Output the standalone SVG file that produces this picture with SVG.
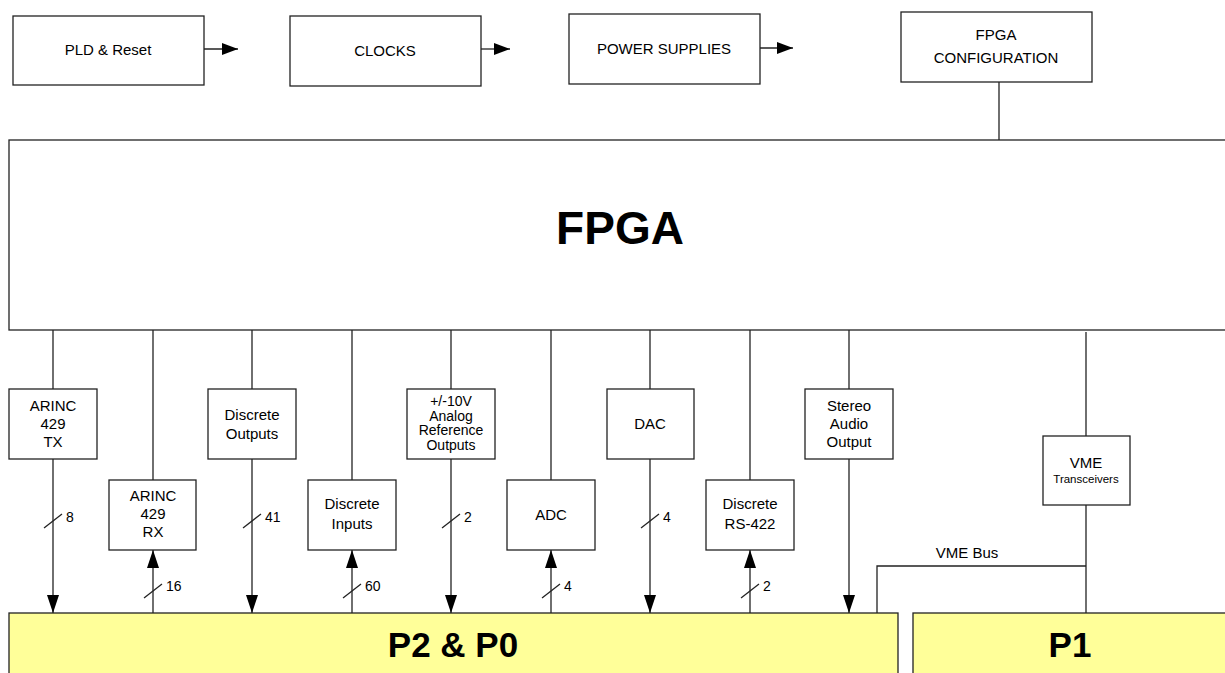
<svg xmlns="http://www.w3.org/2000/svg" width="1225" height="673" viewBox="0 0 1225 673">
<style>
.box{fill:#fff;stroke:#222;stroke-width:1.3}
.conn{fill:#ffff99;stroke:#222;stroke-width:1.3}
.ln{fill:none;stroke:#222;stroke-width:1.3}
.t{font-family:"Liberation Sans",Arial,sans-serif;font-size:15px;fill:#000;text-anchor:middle}
.s{font-size:14px}
.xs{font-size:11.5px}
.n{font-family:"Liberation Sans",Arial,sans-serif;font-size:14px;fill:#000}
.big{font-family:"Liberation Sans",Arial,sans-serif;font-weight:bold;fill:#000;text-anchor:middle}
</style>
<defs>
<marker id="ah" markerUnits="userSpaceOnUse" markerWidth="16" markerHeight="12" refX="16" refY="6" orient="auto"><path d="M0,0 L16,6 L0,12 z" fill="#000"/></marker>
<marker id="av" markerUnits="userSpaceOnUse" markerWidth="18" markerHeight="12" refX="18" refY="6" orient="auto"><path d="M0,0 L18,6 L0,12 z" fill="#000"/></marker>
</defs>
<rect width="1225" height="673" fill="#fff"/>

<g id="pld"><rect class="box" x="13" y="16" width="191" height="69"/><text class="t" x="108" y="55">PLD &amp; Reset</text></g>
<g id="clocks"><rect class="box" x="290" y="16" width="191" height="70"/><text class="t" x="385" y="56">CLOCKS</text></g>
<g id="power"><rect class="box" x="569" y="14" width="191" height="70"/><text class="t" x="664" y="54">POWER SUPPLIES</text></g>
<g id="fpgacfg"><rect class="box" x="901" y="12" width="191" height="70"/><text class="t" x="996" y="40">FPGA</text><text class="t" x="996" y="63">CONFIGURATION</text></g>
<g id="fpga"><rect class="box" x="9" y="140" width="1225" height="190"/><text class="big" x="620" y="244" style="font-size:46px">FPGA</text></g>

<g id="arinctx"><rect class="box" x="9" y="389" width="88" height="70"/><text class="t" x="53" y="411">ARINC</text><text class="t" x="53" y="429">429</text><text class="t" x="53" y="447">TX</text></g>
<g id="arincrx"><rect class="box" x="109" y="480" width="87" height="70"/><text class="t" x="153" y="501">ARINC</text><text class="t" x="153" y="519">429</text><text class="t" x="153" y="537">RX</text></g>
<g id="dout"><rect class="box" x="208" y="389" width="88" height="70"/><text class="t" x="252" y="420">Discrete</text><text class="t" x="252" y="439">Outputs</text></g>
<g id="din"><rect class="box" x="308" y="480" width="88" height="70"/><text class="t" x="352" y="509">Discrete</text><text class="t" x="352" y="529">Inputs</text></g>
<g id="analog"><rect class="box" x="407" y="389" width="88" height="70"/><text class="t s" x="451" y="406">+/-10V</text><text class="t s" x="451" y="421">Analog</text><text class="t s" x="451" y="435">Reference</text><text class="t s" x="451" y="450">Outputs</text></g>
<g id="adc"><rect class="box" x="507" y="480" width="88" height="70"/><text class="t" x="551" y="520">ADC</text></g>
<g id="dac"><rect class="box" x="607" y="389" width="87" height="70"/><text class="t" x="650" y="429">DAC</text></g>
<g id="rs422"><rect class="box" x="706" y="480" width="88" height="70"/><text class="t" x="750" y="509">Discrete</text><text class="t" x="750" y="529">RS-422</text></g>
<g id="audio"><rect class="box" x="805" y="389" width="88" height="70"/><text class="t" x="849" y="411">Stereo</text><text class="t" x="849" y="429">Audio</text><text class="t" x="849" y="447">Output</text></g>
<g id="vme"><rect class="box" x="1043" y="436" width="87" height="69"/><text class="t" x="1086" y="468">VME</text><text class="t xs" x="1086" y="483">Transceivers</text></g>

<g id="p2p0"><rect class="conn" x="9" y="613" width="889" height="70"/><text class="big" x="453" y="657" style="font-size:35px">P2 &amp; P0</text></g>
<g id="p1"><rect class="conn" x="913" y="613" width="330" height="70"/><text class="big" x="1070" y="657" style="font-size:35px">P1</text></g>

<g id="connectors">
<line class="ln" x1="204" y1="49" x2="238" y2="49" marker-end="url(#ah)"/>
<line class="ln" x1="481" y1="49" x2="510" y2="49" marker-end="url(#ah)"/>
<line class="ln" x1="760" y1="48" x2="793" y2="48" marker-end="url(#ah)"/>
<line class="ln" x1="999" y1="82" x2="999" y2="140"/>

<line class="ln" x1="53" y1="330" x2="53" y2="389"/>
<line class="ln" x1="53" y1="459" x2="53" y2="613" marker-end="url(#av)"/>
<line class="ln" x1="44" y1="528" x2="62" y2="514"/>
<text class="n" x="66" y="522">8</text>

<line class="ln" x1="153" y1="330" x2="153" y2="480"/>
<line class="ln" x1="153" y1="613" x2="153" y2="550" marker-end="url(#av)"/>
<line class="ln" x1="144" y1="598" x2="162" y2="584"/>
<text class="n" x="166" y="591">16</text>

<line class="ln" x1="252" y1="330" x2="252" y2="389"/>
<line class="ln" x1="252" y1="459" x2="252" y2="613" marker-end="url(#av)"/>
<line class="ln" x1="243" y1="528" x2="261" y2="514"/>
<text class="n" x="265" y="522">41</text>

<line class="ln" x1="352" y1="330" x2="352" y2="480"/>
<line class="ln" x1="352" y1="613" x2="352" y2="550" marker-end="url(#av)"/>
<line class="ln" x1="343" y1="598" x2="361" y2="584"/>
<text class="n" x="365" y="591">60</text>

<line class="ln" x1="451" y1="330" x2="451" y2="389"/>
<line class="ln" x1="451" y1="459" x2="451" y2="613" marker-end="url(#av)"/>
<line class="ln" x1="442" y1="528" x2="460" y2="514"/>
<text class="n" x="464" y="522">2</text>

<line class="ln" x1="551" y1="330" x2="551" y2="480"/>
<line class="ln" x1="551" y1="613" x2="551" y2="550" marker-end="url(#av)"/>
<line class="ln" x1="542" y1="598" x2="560" y2="584"/>
<text class="n" x="564" y="591">4</text>

<line class="ln" x1="650" y1="330" x2="650" y2="389"/>
<line class="ln" x1="650" y1="459" x2="650" y2="613" marker-end="url(#av)"/>
<line class="ln" x1="641" y1="528" x2="659" y2="514"/>
<text class="n" x="663" y="522">4</text>

<line class="ln" x1="750" y1="330" x2="750" y2="480"/>
<line class="ln" x1="750" y1="613" x2="750" y2="550" marker-end="url(#av)"/>
<line class="ln" x1="741" y1="598" x2="759" y2="584"/>
<text class="n" x="763" y="591">2</text>

<line class="ln" x1="849" y1="330" x2="849" y2="389"/>
<line class="ln" x1="849" y1="459" x2="849" y2="613" marker-end="url(#av)"/>

<line class="ln" x1="1086" y1="332" x2="1086" y2="436"/>
<line class="ln" x1="1086" y1="505" x2="1086" y2="613"/>
<polyline class="ln" points="877,613 877,566 1086,566"/>
<text class="t" x="967" y="558">VME Bus</text>
</g>
</svg>
